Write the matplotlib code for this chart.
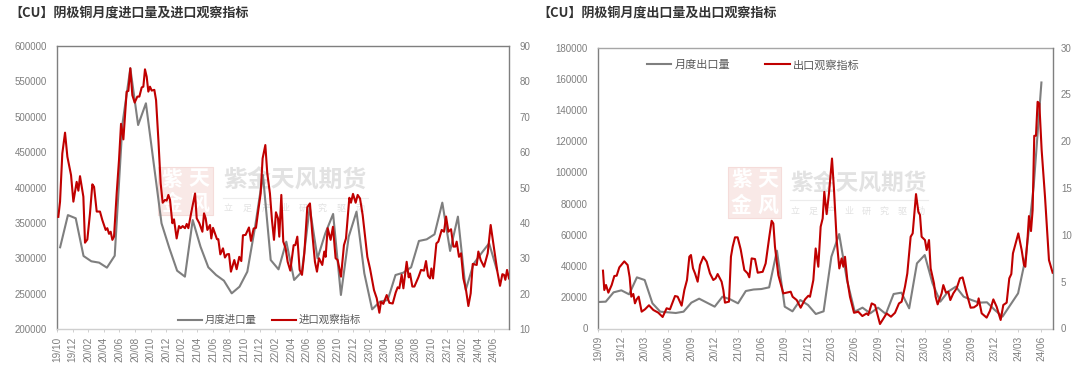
import numpy as np
import matplotlib
matplotlib.use('Agg')
import matplotlib.pyplot as plt
from matplotlib.patches import Rectangle

plt.rcParams['font.family'] = ['Noto Sans CJK SC', 'DejaVu Sans']

W, H = 1080, 373

# left chart: monthly imports (gray) and import indicator (red, x in months since 19/10)
import_labels = ['19/10', '19/12', '20/02', '20/04', '20/06', '20/08', '20/10', '20/12',
                 '21/02', '21/04', '21/06', '21/08', '21/10', '21/12', '22/02', '22/04',
                 '22/06', '22/08', '22/10', '22/12', '23/02', '23/04', '23/06', '23/08',
                 '23/10', '23/12', '24/02', '24/04', '24/06']
import_volume = [315500, 361000, 356500, 303200, 295700, 293800, 286700, 303600, 490700, 568500,
                 488300, 519000, 434000, 349400, 314400, 282400, 274000, 354000, 316300, 287200,
                 276300, 268300, 250400, 259800, 281000, 344650, 417700, 297500, 284300, 323450,
                 269300, 281000, 372000, 299900, 335200, 362600, 248100, 330500, 365850, 278700,
                 227800, 238650, 241000, 276300, 279600, 287200, 324400, 326750, 333800, 378600,
                 310300, 358800, 255100, 291900, 306900, 321100, 283400]
import_ind_x = [0.17, 0.39, 0.68, 1.03, 1.33, 1.80, 2.10, 2.52, 2.74, 2.95, 3.38, 3.59, 3.89, 4.23,
                4.53, 4.75, 5.09, 5.51, 5.81, 6.24, 6.45, 6.67, 6.88, 7.10, 7.31, 7.65, 7.95, 8.21,
                8.51, 8.93, 9.15, 9.40, 9.66, 9.96, 10.30, 10.56, 10.86, 11.07, 11.28, 11.50, 11.71,
                11.92, 12.14, 12.48, 12.70, 13.00, 13.29, 13.55, 13.85, 14.06, 14.28, 14.49, 14.79,
                15.00, 15.34, 15.64, 15.86, 16.11, 16.41, 16.63, 16.84, 17.27, 17.70, 17.91, 18.25,
                18.64, 18.85, 19.06, 19.28, 19.62,
                19.78, 20.0, 20.25, 20.51, 20.68, 20.94, 21.28, 21.53, 21.79, 22.05, 22.30, 22.73,
                23.03, 23.37, 23.63, 23.84, 24.18, 24.61, 24.87, 25.21, 25.51, 25.81, 26.11, 26.36,
                26.71, 26.96, 27.30, 27.56, 27.82, 28.07, 28.33, 28.50, 28.76, 29.01, 29.31, 29.57,
                29.91, 30.34, 30.55, 30.81, 31.11, 31.41, 31.71, 32.09, 32.43, 32.73, 33.07, 33.33,
                33.59, 34.01, 34.27, 34.44, 34.70, 35.08, 35.38, 35.72, 35.98, 36.41, 36.79, 37.05,
                37.48, 37.69, 37.95, 38.29, 38.55, 38.85,
                39.19, 39.79, 40.13, 40.64, 40.99, 41.33, 41.54, 41.84, 42.27, 42.61, 43.04, 43.42,
                43.68, 43.89, 44.19, 44.41, 44.83, 45.09, 45.26, 45.56, 45.82, 46.33, 46.67, 47.06,
                47.31, 47.57, 47.83, 48.0, 48.21, 48.64, 48.89, 49.32, 49.62, 49.88, 50.18, 50.52,
                50.82, 51.07, 51.24, 51.54, 51.8, 52.1, 52.44, 52.74, 53.04, 53.3, 53.81, 54.02,
                54.32, 54.75, 55.22, 55.6, 56.07, 56.46, 56.8, 57.1, 57.31, 57.48, 57.7, 57.95]
import_ind = [41.7, 46.0, 59.6, 65.5, 58.7, 53.5, 46.0, 51.6, 49.1, 53.2, 47.4, 34.4, 35.3, 42.7,
              50.9, 50.2, 43.2, 43.2, 40.8, 38.0, 38.5, 36.9, 37.5, 35.2, 36.1, 48.3, 57.8, 68.0,
              63.6, 77.1, 77.3, 83.7, 76.1, 74.0, 75.7, 75.7, 78.3, 78.5, 83.4, 81.3, 77.1,
              78.5, 77.4, 77.6, 74.7, 63.4, 51.2, 45.7, 46.5, 46.3, 47.9, 46.5, 39.9,
              41.0, 35.6, 39.1, 38.5, 39.1, 38.5, 39.7, 38.5, 43.6, 48.3, 41.3, 39.9,
              37.5, 42.7, 41.3, 38.0, 39.4,
              35.6, 38.6, 37.0, 35.4, 35.4, 31.1, 32.8, 30.2, 31.1, 31.2, 26.2, 29.5,
              26.9, 30.4, 29.2, 36.5, 36.6, 38.7, 34.9, 38.4, 38.6, 43.6, 48.3, 58.2,
              62.0, 54.0, 48.3, 40.8, 35.2, 43.0, 41.3, 36.1, 47.9, 34.7, 32.8, 29.0,
              26.5, 33.7, 33.7, 36.1, 26.7, 25.3, 31.4, 44.4, 45.5, 37.0, 29.0, 26.2,
              30.0, 28.1, 31.9, 30.4, 38.5, 35.2, 38.9, 30.0, 29.5, 24.8, 33.7, 35.6,
              47.1, 45.7, 48.2, 45.7, 47.9, 46.9,
              42.2, 30.4, 27.1, 21.0, 18.7, 14.6, 17.7, 17.1, 19.6, 17.4, 17.2, 20.3,
              21.8, 21.5, 25.3, 21.5, 29.0, 24.6, 25.7, 22.0, 22.0, 24.6, 26.7, 26.5,
              29.2, 25.0, 24.3, 27.1, 24.3, 34.2, 34.7, 38.0, 37.5, 41.8, 37.5, 38.2,
              33.3, 33.3, 34.7, 30.4, 31.4, 24.3, 21.0, 16.5, 20.1, 28.4, 28.1, 31.9,
              29.5, 27.6, 31.4, 39.4, 32.3, 26.2, 22.2, 25.5, 25.3, 23.9, 26.7, 24.3]

# right chart: monthly exports (gray) and export indicator (red, x in months since 19/09)
export_labels = ['19/09', '19/12', '20/03', '20/06', '20/09', '20/12', '21/03', '21/06',
                 '21/09', '21/12', '22/03', '22/06', '22/09', '22/12', '23/03', '23/06',
                 '23/09', '23/12', '24/03', '24/06']
export_volume = [16980, 17200, 23180, 24460, 21900, 32780, 31080, 16130, 10790, 10370,
                 9940, 10790, 16560, 19120, 16560, 14000, 20400, 18690, 16130, 24030,
                 25000, 25300, 26380, 49870, 14000, 11010, 18270, 15070, 9300, 11010,
                 46030, 60540, 31080, 10800, 13360, 9730, 13360, 9300, 22110, 22970,
                 12930, 41770, 47100, 28960, 17220, 23620, 26830, 20420, 18290, 16580,
                 16790, 11880, 7610, 15080, 22550, 46040, 90900, 157700]
export_ind_x = [0.64, 0.81, 1.03, 1.33, 1.76, 2.10, 2.40, 2.74, 3.38, 3.81, 4.07, 4.28, 4.54, 4.75,
                4.97, 5.23, 5.61, 6.04, 6.55, 7.11, 7.75, 8.31, 8.82, 9.25, 9.90, 10.24, 10.75,
                11.10, 11.44, 11.74, 11.95, 12.21, 12.47, 12.81, 13.11, 13.54, 13.97, 14.39, 14.82,
                15.12, 15.38, 15.89, 16.11, 16.32, 16.84, 17.09, 17.31, 17.61, 17.95, 18.34, 18.81,
                19.23, 19.45, 19.75, 20.18,
                20.53, 21.17, 21.55, 22.02, 22.32, 22.54, 22.75, 23.18, 23.82, 24.77, 25.02, 25.54,
                26.05, 26.61, 27.04, 27.25, 27.68, 27.98, 28.32, 28.62, 28.88, 29.09, 29.39, 29.69,
                30.08, 30.34, 30.68, 31.02, 31.32, 31.54, 31.75, 32.05, 32.39, 32.91, 33.46, 33.98,
                34.53, 34.75, 35.18, 35.61, 36.25, 37.1, 37.66, 38.18, 38.69, 39.03, 39.46, 39.76,
                40.19, 40.45, 40.88, 41.18, 41.39, 41.6, 42.03, 42.25, 42.55, 42.76, 43.19, 43.4,
                43.66, 44.17, 44.39, 44.73, 45.03, 45.29, 45.67, 46.1, 46.53, 46.87, 47.39, 47.9,
                48.33, 48.76, 48.93, 49.32, 49.96, 50.39, 50.82, 51.24, 51.76, 52.1, 52.53, 52.87,
                53.13, 53.34, 53.69, 54.03, 54.46, 54.76, 54.93, 55.23, 55.4, 55.66, 55.87, 56.08,
                56.3, 56.51, 56.73, 57.03, 57.46, 57.97, 58.44]
export_ind = [6.18, 4.11, 4.65, 3.83, 4.65, 5.61, 5.64, 6.53, 7.17, 6.78, 5.47, 3.40, 3.69, 2.69,
              3.12, 3.40, 1.80, 2.05, 2.48, 1.98, 1.69, 1.23, 2.16, 2.05, 3.47, 3.40, 2.44,
              4.11, 5.18, 7.67, 7.85, 6.43, 5.89, 5.00, 6.78, 7.67, 7.14, 5.89, 5.18,
              5.36, 5.82, 5.00, 4.11, 2.76, 2.87, 7.67, 8.74, 9.74, 9.74, 8.46, 6.25,
              5.89, 5.47, 7.49, 7.42,
              5.96, 6.06, 6.95, 9.8, 11.51, 11.22, 8.73, 5.71, 3.75, 3.93, 3.39, 3.04,
              2.22, 3.11, 3.5, 3.39, 5.17, 8.55, 6.6, 10.87, 11.76, 14.6, 12.22, 14.43,
              18.16, 14.78, 9.44, 6.42, 7.49, 6.6, 7.66, 5.17, 3.39, 1.68, 1.79, 1.33,
              1.61, 1.44, 2.68, 2.5, 0.48, 1.61, 1.26, 1.68, 2.68, 2.86, 4.46, 5.88,
              9.8, 10.16, 14.36, 12.47, 12.12, 9.8, 9.45, 8.38, 9.45, 6.42, 4.82, 3.4,
              2.58, 3.75, 4.64, 3.83, 3.93, 3.04, 3.75, 4.29, 5.36, 5.46, 3.75, 2.22,
              2.26, 2.51, 3.22, 1.62, 1.16, 1.9, 3.11, 2.33, 0.91, 2.51, 2.76, 5.36,
              5.82, 8.03, 9.09, 10.16, 8.38, 6.78, 6.6, 9.8, 12.01, 10.41, 12.65, 20.59,
              20.59, 24.22, 24.04, 19.06, 14.08, 7.31, 5.96]

gray = '#7f7f7f'
red = '#c00000'
tick_font = 'Liberation Sans'


def make_axes(left, right, top, bottom):
    return fig.add_axes([left / W, 1 - bottom / H, (right - left) / W, (bottom - top) / H])


def watermark(ax, seal, name_x, name_size, text_top, line_y, sub_y, name_end):
    tr = fig.transFigure
    x0, x1, y0, y1 = seal
    ax.add_patch(Rectangle((x0 / W, 1 - y1 / H), (x1 - x0) / W, (y1 - y0) / H, transform=tr,
                           facecolor='#f9e9e7', edgecolor='#f5dcda', lw=0.8, zorder=0, clip_on=False))
    xm = (x0 + x1) / 2
    ym = (y0 + y1) / 2
    for ch, cx, cy in [('紫', (x0 + xm) / 2, (y0 + ym) / 2), ('天', (x1 + xm) / 2, (y0 + ym) / 2),
                       ('金', (x0 + xm) / 2, (y1 + ym) / 2), ('风', (x1 + xm) / 2, (y1 + ym) / 2)]:
        ax.text(cx / W, 1 - cy / H, ch, transform=tr, color='white', fontsize=15, weight='bold',
                ha='center', va='center', zorder=0.5)
    ax.text(name_x / W, 1 - text_top / H, '紫金天风期货', transform=tr, color='#e2e2e2', fontsize=name_size,
            weight='bold', ha='left', va='center', zorder=0.5)
    ax.plot([name_x / W, name_end / W], [1 - line_y / H] * 2, transform=tr, color='#ececec', lw=0.8,
            zorder=0.5, clip_on=False)
    chars = '立足产业研究驱动'
    xs = np.linspace(name_x + 5, name_end - 8, len(chars))
    for ch, cx in zip(chars, xs):
        ax.text(cx / W, 1 - sub_y / H, ch, transform=tr, color='#e2e2e2', fontsize=6.5,
                ha='center', va='center', zorder=0.5)


def style(ax, ax2, ticks, labels, xmax, top_col, lpad, rpad):
    ax.set_xlim(0, xmax)
    ax.set_xticks(ticks)
    ax.set_xticklabels(labels, rotation=90, fontsize=7.2, color=gray, family=tick_font)
    ax.tick_params(axis='x', length=2.5, width=0.7, color='#d0d0d0', pad=3)
    ax.tick_params(axis='y', length=0, pad=lpad, labelcolor=gray, labelsize=7)
    ax2.tick_params(axis='y', length=0, pad=rpad, labelcolor=gray, labelsize=7)
    for lab in list(ax.get_yticklabels()) + list(ax2.get_yticklabels()):
        lab.set_family(tick_font)
    ax2.spines['top'].set_visible(False)
    ax2.spines['bottom'].set_visible(False)
    ax2.spines['left'].set_visible(False)
    ax2.spines['right'].set_color(gray)
    ax2.spines['right'].set_linewidth(1.0)
    ax.spines['right'].set_visible(False)
    ax.spines['left'].set_color(gray)
    ax.spines['left'].set_linewidth(1.0)
    ax.spines['top'].set_color(top_col)
    ax.spines['top'].set_linewidth(1.0)
    ax.spines['bottom'].set_color('#cfcfcf')
    ax.spines['bottom'].set_linewidth(1.0)


fig = plt.figure(figsize=(W / 100, H / 100), dpi=100, facecolor='white')

# left chart
ax = make_axes(57, 509, 46, 329)
ax2 = ax.twinx()
ax.set_ylim(200000, 600000)
ax.set_yticks(np.arange(200000, 600001, 50000))
ax2.set_ylim(10, 90)
ax2.set_yticks(np.arange(10, 91, 10))
watermark(ax, (158, 213, 167, 215), 223, 17.2, 181, 198, 208, 368)
l1, = ax.plot(np.arange(len(import_volume)) + 0.4, import_volume, color=gray, lw=1.5, label='月度进口量', zorder=3)
l2, = ax2.plot(import_ind_x, import_ind, color=red, lw=1.5, label='进口观察指标', zorder=3)
style(ax, ax2, np.arange(0, 57, 2), import_labels, 57.95, gray, 7.2, 7.5)
ax2.legend(handles=[l1, l2], ncol=2, frameon=False, loc='center left', bbox_to_anchor=(178 / W, 1 - 320 / H),
           bbox_transform=fig.transFigure, fontsize=7.5, labelcolor='#595959', handlelength=2.3,
           handletextpad=0.25, columnspacing=1.5, borderpad=0, borderaxespad=0)
fig.text(9 / W, 1 - 13 / H, '【CU】阴极铜月度进口量及进口观察指标', fontsize=9.4, weight='bold', color='#333333',
         ha='left', va='center')

# right chart
ax3 = make_axes(598, 1052.7, 47.7, 328.5)
ax4 = ax3.twinx()
ax3.set_ylim(0, 180000)
ax3.set_yticks(np.arange(0, 180001, 20000))
ax4.set_ylim(0, 30)
ax4.set_yticks(np.arange(0, 31, 5))
watermark(ax3, (728, 781, 167, 218), 790, 16.4, 183, 200, 211, 928)
l3, = ax3.plot(np.arange(len(export_volume)), export_volume, color=gray, lw=1.5, label='月度出口量', zorder=3)
l4, = ax4.plot(export_ind_x, export_ind, color=red, lw=1.5, label='出口观察指标', zorder=3)
style(ax3, ax4, np.arange(0, 58, 3), export_labels, 58.45, '#a6a6a6', 7.5, 6)
ax4.legend(handles=[l3, l4], ncol=2, frameon=False, loc='center left', bbox_to_anchor=(647 / W, 1 - 65 / H),
           bbox_transform=fig.transFigure, fontsize=8, labelcolor='#595959', handlelength=2.2,
           handletextpad=0.25, columnspacing=3.2, borderpad=0, borderaxespad=0)
fig.text(537 / W, 1 - 13 / H, '【CU】阴极铜月度出口量及出口观察指标', fontsize=9.4, weight='bold', color='#333333',
         ha='left', va='center')

fig.savefig('out.png', dpi=100)
